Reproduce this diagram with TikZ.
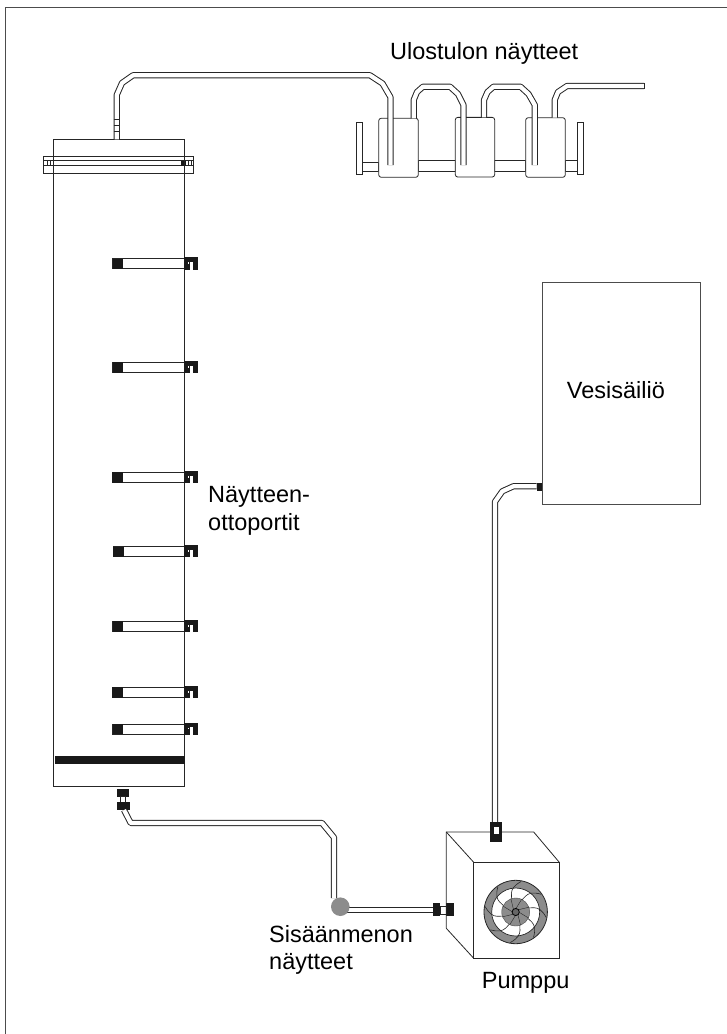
\documentclass[tikz,border=0pt]{standalone}
\usepackage{fontspec}
\setmainfont{Liberation Sans}
\usetikzlibrary{calc}

\begin{document}
\begin{tikzpicture}[
  x=1pt, y=-1pt,
  font=\fontsize{23.5}{27.5}\selectfont,
  pipe/.style={draw=black!85, line width=6.2pt, line join=round},
  pipeinner/.style={draw=white, line width=4.2pt, line join=round},
  part/.style={draw=black!85, line width=0.8pt, fill=white},
  solid part/.style={fill=black!90, draw=none},
  valvebox/.style={part, rounded corners=2.5pt, inner sep=0pt},
  lbl/.style={align=left, anchor=base west, inner sep=0pt},
  lbltwo/.style={align=left, anchor=west, inner sep=0pt}
]
\newcommand{\tube}[1]{%
  \draw[pipe] #1;
  \draw[pipeinner] #1;}
% one sampling port, y is the middle of the tube
\newcommand{\port}[3]{%
  \draw[part] (#1,#2-5) rectangle (184.7,#2+5);
  \fill[solid part] (#1,#2-5.2) rectangle (#1+10.7,#2+5.2);
  \fill[solid part] (184,#2-6.5) rectangle (198.3,#2+5.7);
  \fill[white] (190,#2-2) rectangle (193.3,#2+5.7);
  \fill[white] (187.5,#2-1.5) rectangle (189,#2);
  \coordinate (#3) at (184.7,#2);}

\useasboundingbox (0,0) rectangle (727,1034);
\draw[black!70, line width=1.2pt] (5.7,1034) -- (5.7,7.3) -- (727,7.3);

% column
\node[draw=black!85, line width=0.9pt, minimum width=131pt, minimum height=646.7pt, inner sep=0pt] (column) at (119.3,462.7) {};
\coordinate (outlet) at (116.7,139.3);
\fill[solid part] (54.5,756) rectangle (185,764.3);
\draw[part] (43.3,156.7) rectangle (193.7,173.3);
\draw[part, fill=none] (43.3,160.3) -- (193.7,160.3) (43.3,165.7) -- (193.7,165.7);
\fill[solid part] (181,160.5) rectangle (186,165.5);
\draw[black!85, line width=0.5pt] (47,160.3) -- (47,165.7) (50,160.3) -- (50,165.7) (53.7,160.3) -- (53.7,165.7) (188.5,160.3) -- (188.5,165.7) (191,160.3) -- (191,165.7);
\draw[black!85, line width=0.8pt] (53.7,156.7) -- (53.7,173.3) (184.7,156.7) -- (184.7,173.3);

\port{112.7}{263.8}{p1}
\port{112.7}{367.5}{p2}
\port{112}{477.5}{p3}
\port{113}{551.7}{p4}
\port{112.7}{626.5}{p5}
\port{112.3}{692.5}{p6}
\port{112.7}{729.2}{p7}

% outlet pipe and valves
\draw[part] (356,122.7) rectangle (362.3,174);
\draw[part] (577,122) rectangle (583,174);
\draw[part] (362.3,162.3) rectangle (378.7,171.7);
\draw[part] (418.3,160.7) rectangle (455.3,171.7);
\draw[part] (494.7,160.7) rectangle (525.7,171.7);
\draw[part] (565.3,160.7) rectangle (577,171.7);

\node[valvebox, minimum width=39.6pt, minimum height=59pt] (valve1) at (398.5,147.8) {};
\node[valvebox, minimum width=39.4pt, minimum height=59.7pt] (valve2) at (475,147.2) {};
\node[valvebox, minimum width=39.6pt, minimum height=59.6pt] (valve3) at (545.5,147.5) {};

\coordinate (v1in) at (390.4,165);
\tube{(outlet) -- (116.7,95) -- (122,83) -- (133,75.3) -- (370,75.3) -- (382.5,83.5) -- (390.4,97) -- (v1in)}
\draw[black!85, line width=0.6pt] (113.7,119.3) -- (119.7,119.3) (113.7,125) -- (119.7,125) (113.7,131) -- (119.7,131);

\tube{(413.7,118.3) -- (413.7,100) -- (417,92) -- (423,86.7) -- (450,86.7) -- (458,94) -- (463.5,105) -- (463.5,165)}
\tube{(484,117.3) -- (484,100) -- (487.5,92) -- (493.5,86.7) -- (520.5,86.7) -- (528.5,94) -- (534.8,105) -- (534.8,165)}
\tube{(554.7,117.7) -- (554.7,100) -- (558,92) -- (567,86) -- (644,86)}
\draw[black!85, line width=0.8pt] (644,83) -- (644,89);

% inlet line
\fill[solid part] (117,788.7) rectangle (129.3,796.7);
\draw[part] (120.5,796.7) rectangle (125.5,802.3);
\fill[solid part] (116.7,802.3) rectangle (130,810);
\coordinate (pumpin) at (432.7,910.3);
\tube{(124,810) -- (130.7,823) -- (322,823) -- (334,837.5) -- (334,898)}
\tube{(340.3,910.3) -- (pumpin)}
\node[circle, fill=black!45, minimum size=18.6pt, inner sep=0pt] (sampler) at (340.3,906.7) {};
\fill[solid part] (432.7,903.3) rectangle (440.3,916.3);
\draw[part] (440.3,906) rectangle (446.3,914);
\fill[solid part] (446.3,903.3) rectangle (453.7,916.3);

% pump
\draw[black!85, line width=0.8pt] (446.3,928.3) -- (446.3,832) -- (533.7,832) -- (559.3,862.3);
\draw[black!85, line width=0.8pt] (446.3,832) -- (473.7,862.3) (446.3,928.3) -- (473.7,958.3);
\node[draw=black!85, line width=0.9pt, minimum width=85.6pt, minimum height=96pt, inner sep=0pt] (pump) at (516.5,910.3) {};
\fill[black!45, draw=black!85, line width=0.8pt] (515.7,912) circle (31.7);
\fill[white, draw=black!85, line width=0.7pt] (515.7,912) circle (24);
\foreach \a in {0,45,...,315}{
  \draw[black!85, line width=0.6pt] ($(515.7,912)+(\a:7)$) .. controls ($(515.7,912)+(\a+40:16)$) and ($(515.7,912)+(\a+20:24)$) .. ($(515.7,912)+(\a+55:31)$);
}
\fill[black!45, draw=black!70, line width=0.4pt] (515.7,912) circle (14);
\foreach \a in {0,45,...,315}{
  \draw[black!85, line width=0.4pt] ($(515.7,912)+(\a:3)$) -- ($(515.7,912)+(\a+25:14)$);
}
\fill[black!60, draw=black, line width=0.8pt] (515.7,912) circle (3.6);

% tank
\node[draw=black!70, line width=0.9pt, minimum width=158pt, minimum height=222pt, inner sep=0pt] (tank) at (621,393.2) {};
\tube{(495,822) -- (495,501.7) -- (502.3,491.3) -- (513.3,486.3) -- (536.7,486.3)}
\fill[solid part] (536.7,482.7) rectangle (541.7,490.7);
\fill[solid part] (490.3,822) rectangle (502,842);
\fill[white] (493.7,826.7) rectangle (499,834.3);

% texts
\node[lbl] (outtext) at (390,59.3) {Ulostulon näytteet};
\node[lbl] (tanktext) at (566.7,398.3) {Vesisäiliö};
\node[lbltwo] (porttext) at (208,511) {Näytteen-\\ottoportit};
\node[lbltwo] (intext) at (269,950) {Sisäänmenon\\näytteet};
\node[lbl] (pumptext) at (481.7,988) {Pumppu};
\end{tikzpicture}
\end{document}
